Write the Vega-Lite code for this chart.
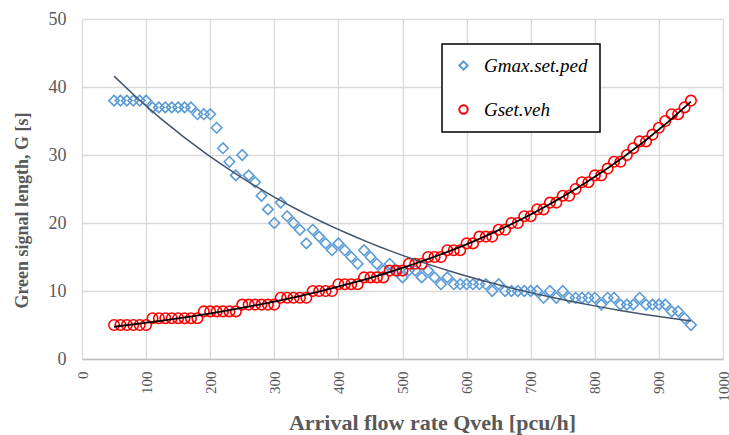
{
  "$schema": "https://vega.github.io/schema/vega-lite/v6.json",
  "width": 641,
  "height": 340,
  "autosize": {"type": "none"},
  "padding": {"left": 82, "top": 19, "right": 6, "bottom": 76},
  "background": "white",
  "config": {
    "view": {"stroke": null},
    "font": "Times New Roman, Liberation Serif, serif",
    "axis": {
      "labelFont": "Times New Roman, Liberation Serif, serif",
      "labelColor": "#595959",
      "titleFont": "Times New Roman, Liberation Serif, serif",
      "titleColor": "#595959",
      "titleFontWeight": "bold",
      "titleFontSize": 18,
      "gridColor": "#d9d9d9",
      "gridWidth": 1.3,
      "ticks": false,
      "domain": false
    },
    "legend": {
      "orient": "none",
      "legendX": 360,
      "legendY": 25,
      "strokeColor": "#000000",
      "strokeWidth": 1.5,
      "fillColor": "#ffffff",
      "padding": 12,
      "rowPadding": 24,
      "labelFont": "Times New Roman, Liberation Serif, serif",
      "labelFontStyle": "italic",
      "labelFontSize": 19,
      "labelColor": "#000000",
      "symbolSize": 70,
      "symbolStrokeWidth": 2,
      "labelOffset": 11,
      "title": null
    }
  },
  "data": {
    "values": [
      {"x": 50, "y": 38, "s": "Gmax.set.ped"}, {"x": 60, "y": 38, "s": "Gmax.set.ped"}, {"x": 70, "y": 38, "s": "Gmax.set.ped"}, {"x": 80, "y": 38, "s": "Gmax.set.ped"}, {"x": 90, "y": 38, "s": "Gmax.set.ped"}, {"x": 100, "y": 38, "s": "Gmax.set.ped"},
      {"x": 110, "y": 37, "s": "Gmax.set.ped"}, {"x": 120, "y": 37, "s": "Gmax.set.ped"}, {"x": 130, "y": 37, "s": "Gmax.set.ped"}, {"x": 140, "y": 37, "s": "Gmax.set.ped"}, {"x": 150, "y": 37, "s": "Gmax.set.ped"}, {"x": 160, "y": 37, "s": "Gmax.set.ped"}, {"x": 170, "y": 37, "s": "Gmax.set.ped"},
      {"x": 180, "y": 36, "s": "Gmax.set.ped"}, {"x": 190, "y": 36, "s": "Gmax.set.ped"}, {"x": 200, "y": 36, "s": "Gmax.set.ped"}, {"x": 210, "y": 34, "s": "Gmax.set.ped"}, {"x": 220, "y": 31, "s": "Gmax.set.ped"}, {"x": 230, "y": 29, "s": "Gmax.set.ped"}, {"x": 240, "y": 27, "s": "Gmax.set.ped"}, {"x": 250, "y": 30, "s": "Gmax.set.ped"},
      {"x": 260, "y": 27, "s": "Gmax.set.ped"}, {"x": 270, "y": 26, "s": "Gmax.set.ped"}, {"x": 280, "y": 24, "s": "Gmax.set.ped"}, {"x": 290, "y": 22, "s": "Gmax.set.ped"}, {"x": 300, "y": 20, "s": "Gmax.set.ped"}, {"x": 310, "y": 23, "s": "Gmax.set.ped"}, {"x": 320, "y": 21, "s": "Gmax.set.ped"}, {"x": 330, "y": 20, "s": "Gmax.set.ped"},
      {"x": 340, "y": 19, "s": "Gmax.set.ped"}, {"x": 350, "y": 17, "s": "Gmax.set.ped"}, {"x": 360, "y": 19, "s": "Gmax.set.ped"}, {"x": 370, "y": 18, "s": "Gmax.set.ped"}, {"x": 380, "y": 17, "s": "Gmax.set.ped"}, {"x": 390, "y": 16, "s": "Gmax.set.ped"}, {"x": 400, "y": 17, "s": "Gmax.set.ped"}, {"x": 410, "y": 16, "s": "Gmax.set.ped"},
      {"x": 420, "y": 15, "s": "Gmax.set.ped"}, {"x": 430, "y": 14, "s": "Gmax.set.ped"}, {"x": 440, "y": 16, "s": "Gmax.set.ped"}, {"x": 450, "y": 15, "s": "Gmax.set.ped"}, {"x": 460, "y": 14, "s": "Gmax.set.ped"}, {"x": 470, "y": 13, "s": "Gmax.set.ped"}, {"x": 480, "y": 14, "s": "Gmax.set.ped"}, {"x": 490, "y": 13, "s": "Gmax.set.ped"},
      {"x": 500, "y": 12, "s": "Gmax.set.ped"}, {"x": 510, "y": 13, "s": "Gmax.set.ped"}, {"x": 520, "y": 13, "s": "Gmax.set.ped"}, {"x": 530, "y": 12, "s": "Gmax.set.ped"}, {"x": 540, "y": 13, "s": "Gmax.set.ped"}, {"x": 550, "y": 12, "s": "Gmax.set.ped"}, {"x": 560, "y": 11, "s": "Gmax.set.ped"}, {"x": 570, "y": 12, "s": "Gmax.set.ped"},
      {"x": 580, "y": 11, "s": "Gmax.set.ped"}, {"x": 590, "y": 11, "s": "Gmax.set.ped"}, {"x": 600, "y": 11, "s": "Gmax.set.ped"}, {"x": 610, "y": 11, "s": "Gmax.set.ped"}, {"x": 620, "y": 11, "s": "Gmax.set.ped"}, {"x": 630, "y": 11, "s": "Gmax.set.ped"}, {"x": 640, "y": 10, "s": "Gmax.set.ped"}, {"x": 650, "y": 11, "s": "Gmax.set.ped"},
      {"x": 660, "y": 10, "s": "Gmax.set.ped"}, {"x": 670, "y": 10, "s": "Gmax.set.ped"}, {"x": 680, "y": 10, "s": "Gmax.set.ped"}, {"x": 690, "y": 10, "s": "Gmax.set.ped"}, {"x": 700, "y": 10, "s": "Gmax.set.ped"}, {"x": 710, "y": 10, "s": "Gmax.set.ped"}, {"x": 720, "y": 9, "s": "Gmax.set.ped"}, {"x": 730, "y": 10, "s": "Gmax.set.ped"},
      {"x": 740, "y": 9, "s": "Gmax.set.ped"}, {"x": 750, "y": 10, "s": "Gmax.set.ped"}, {"x": 760, "y": 9, "s": "Gmax.set.ped"}, {"x": 770, "y": 9, "s": "Gmax.set.ped"}, {"x": 780, "y": 9, "s": "Gmax.set.ped"}, {"x": 790, "y": 9, "s": "Gmax.set.ped"}, {"x": 800, "y": 9, "s": "Gmax.set.ped"}, {"x": 810, "y": 8, "s": "Gmax.set.ped"},
      {"x": 820, "y": 9, "s": "Gmax.set.ped"}, {"x": 830, "y": 9, "s": "Gmax.set.ped"}, {"x": 840, "y": 8, "s": "Gmax.set.ped"}, {"x": 850, "y": 8, "s": "Gmax.set.ped"}, {"x": 860, "y": 8, "s": "Gmax.set.ped"}, {"x": 870, "y": 9, "s": "Gmax.set.ped"}, {"x": 880, "y": 8, "s": "Gmax.set.ped"}, {"x": 890, "y": 8, "s": "Gmax.set.ped"},
      {"x": 900, "y": 8, "s": "Gmax.set.ped"}, {"x": 910, "y": 8, "s": "Gmax.set.ped"}, {"x": 920, "y": 7, "s": "Gmax.set.ped"}, {"x": 930, "y": 7, "s": "Gmax.set.ped"}, {"x": 940, "y": 6, "s": "Gmax.set.ped"}, {"x": 950, "y": 5, "s": "Gmax.set.ped"},
      {"x": 50, "y": 5, "s": "Gset.veh"}, {"x": 60, "y": 5, "s": "Gset.veh"}, {"x": 70, "y": 5, "s": "Gset.veh"}, {"x": 80, "y": 5, "s": "Gset.veh"}, {"x": 90, "y": 5, "s": "Gset.veh"}, {"x": 100, "y": 5, "s": "Gset.veh"},
      {"x": 110, "y": 6, "s": "Gset.veh"}, {"x": 120, "y": 6, "s": "Gset.veh"}, {"x": 130, "y": 6, "s": "Gset.veh"}, {"x": 140, "y": 6, "s": "Gset.veh"}, {"x": 150, "y": 6, "s": "Gset.veh"}, {"x": 160, "y": 6, "s": "Gset.veh"}, {"x": 170, "y": 6, "s": "Gset.veh"}, {"x": 180, "y": 6, "s": "Gset.veh"},
      {"x": 190, "y": 7, "s": "Gset.veh"}, {"x": 200, "y": 7, "s": "Gset.veh"}, {"x": 210, "y": 7, "s": "Gset.veh"}, {"x": 220, "y": 7, "s": "Gset.veh"}, {"x": 230, "y": 7, "s": "Gset.veh"}, {"x": 240, "y": 7, "s": "Gset.veh"},
      {"x": 250, "y": 8, "s": "Gset.veh"}, {"x": 260, "y": 8, "s": "Gset.veh"}, {"x": 270, "y": 8, "s": "Gset.veh"}, {"x": 280, "y": 8, "s": "Gset.veh"}, {"x": 290, "y": 8, "s": "Gset.veh"}, {"x": 300, "y": 8, "s": "Gset.veh"},
      {"x": 310, "y": 9, "s": "Gset.veh"}, {"x": 320, "y": 9, "s": "Gset.veh"}, {"x": 330, "y": 9, "s": "Gset.veh"}, {"x": 340, "y": 9, "s": "Gset.veh"}, {"x": 350, "y": 9, "s": "Gset.veh"},
      {"x": 360, "y": 10, "s": "Gset.veh"}, {"x": 370, "y": 10, "s": "Gset.veh"}, {"x": 380, "y": 10, "s": "Gset.veh"}, {"x": 390, "y": 10, "s": "Gset.veh"},
      {"x": 400, "y": 11, "s": "Gset.veh"}, {"x": 410, "y": 11, "s": "Gset.veh"}, {"x": 420, "y": 11, "s": "Gset.veh"}, {"x": 430, "y": 11, "s": "Gset.veh"},
      {"x": 440, "y": 12, "s": "Gset.veh"}, {"x": 450, "y": 12, "s": "Gset.veh"}, {"x": 460, "y": 12, "s": "Gset.veh"}, {"x": 470, "y": 12, "s": "Gset.veh"},
      {"x": 480, "y": 13, "s": "Gset.veh"}, {"x": 490, "y": 13, "s": "Gset.veh"}, {"x": 500, "y": 13, "s": "Gset.veh"},
      {"x": 510, "y": 14, "s": "Gset.veh"}, {"x": 520, "y": 14, "s": "Gset.veh"}, {"x": 530, "y": 14, "s": "Gset.veh"},
      {"x": 540, "y": 15, "s": "Gset.veh"}, {"x": 550, "y": 15, "s": "Gset.veh"}, {"x": 560, "y": 15, "s": "Gset.veh"},
      {"x": 570, "y": 16, "s": "Gset.veh"}, {"x": 580, "y": 16, "s": "Gset.veh"}, {"x": 590, "y": 16, "s": "Gset.veh"},
      {"x": 600, "y": 17, "s": "Gset.veh"}, {"x": 610, "y": 17, "s": "Gset.veh"},
      {"x": 620, "y": 18, "s": "Gset.veh"}, {"x": 630, "y": 18, "s": "Gset.veh"}, {"x": 640, "y": 18, "s": "Gset.veh"},
      {"x": 650, "y": 19, "s": "Gset.veh"}, {"x": 660, "y": 19, "s": "Gset.veh"},
      {"x": 670, "y": 20, "s": "Gset.veh"}, {"x": 680, "y": 20, "s": "Gset.veh"},
      {"x": 690, "y": 21, "s": "Gset.veh"}, {"x": 700, "y": 21, "s": "Gset.veh"},
      {"x": 710, "y": 22, "s": "Gset.veh"}, {"x": 720, "y": 22, "s": "Gset.veh"},
      {"x": 730, "y": 23, "s": "Gset.veh"}, {"x": 740, "y": 23, "s": "Gset.veh"},
      {"x": 750, "y": 24, "s": "Gset.veh"}, {"x": 760, "y": 24, "s": "Gset.veh"},
      {"x": 770, "y": 25, "s": "Gset.veh"},
      {"x": 780, "y": 26, "s": "Gset.veh"}, {"x": 790, "y": 26, "s": "Gset.veh"},
      {"x": 800, "y": 27, "s": "Gset.veh"}, {"x": 810, "y": 27, "s": "Gset.veh"},
      {"x": 820, "y": 28, "s": "Gset.veh"},
      {"x": 830, "y": 29, "s": "Gset.veh"}, {"x": 840, "y": 29, "s": "Gset.veh"},
      {"x": 850, "y": 30, "s": "Gset.veh"},
      {"x": 860, "y": 31, "s": "Gset.veh"},
      {"x": 870, "y": 32, "s": "Gset.veh"}, {"x": 880, "y": 32, "s": "Gset.veh"},
      {"x": 890, "y": 33, "s": "Gset.veh"},
      {"x": 900, "y": 34, "s": "Gset.veh"},
      {"x": 910, "y": 35, "s": "Gset.veh"},
      {"x": 920, "y": 36, "s": "Gset.veh"}, {"x": 930, "y": 36, "s": "Gset.veh"},
      {"x": 940, "y": 37, "s": "Gset.veh"},
      {"x": 950, "y": 38, "s": "Gset.veh"}
    ]
  },
  "layer": [
    {
      "mark": {"type": "point", "filled": false, "strokeWidth": 1.6, "size": 110, "opacity": 1},
      "encoding": {
        "x": {
          "field": "x", "type": "quantitative",
          "scale": {"domain": [0, 1000], "nice": false, "zero": false},
          "axis": {
            "title": "Arrival flow rate Qveh [pcu/h]",
            "format": "d",
            "values": [0, 50, 100, 150, 200, 250, 300, 350, 400, 450, 500, 550, 600, 650, 700, 750, 800, 850, 900, 950, 1000],
            "labelAngle": -90,
            "labelFontSize": 15,
            "labelPadding": 12,
            "domain": true,
            "domainColor": "#bfbfbf",
            "domainWidth": 1.5,
            "titleFontSize": 22,
            "titleX": 350,
            "titleY": 70,
            "titleAlign": "center",
            "titleBaseline": "alphabetic"
          }
        },
        "y": {
          "field": "y", "type": "quantitative",
          "scale": {"domain": [0, 50], "nice": false},
          "axis": {
            "title": "Green signal length, G [s]",
            "values": [0, 5, 10, 15, 20, 25, 30, 35, 40, 45, 50],
            "labelFontSize": 18,
            "labelPadding": 16,
            "titleX": -60,
            "titleY": 191,
            "titleAlign": "center",
            "titleBaseline": "middle"
          }
        },
        "shape": {
          "field": "s", "type": "nominal",
          "scale": {"domain": ["Gmax.set.ped", "Gset.veh"], "range": ["diamond", "circle"]},
          "legend": {"title": null}
        },
        "stroke": {
          "field": "s", "type": "nominal",
          "scale": {"domain": ["Gmax.set.ped", "Gset.veh"], "range": ["#5b9bd5", "#ff0000"]},
          "legend": {"title": null}
        }
      }
    },
    {
      "transform": [
        {"filter": "datum.s == 'Gmax.set.ped'"},
        {"regression": "y", "on": "x", "method": "exp"}
      ],
      "mark": {"type": "line", "color": "#44546a", "strokeWidth": 1.5},
      "encoding": {
        "x": {"field": "x", "type": "quantitative"},
        "y": {"field": "y", "type": "quantitative"}
      }
    },
    {
      "transform": [
        {"filter": "datum.s == 'Gset.veh'"},
        {"regression": "y", "on": "x", "method": "exp"}
      ],
      "mark": {"type": "line", "color": "#000000", "strokeWidth": 1.8},
      "encoding": {
        "x": {"field": "x", "type": "quantitative"},
        "y": {"field": "y", "type": "quantitative"}
      }
    }
  ]
}
